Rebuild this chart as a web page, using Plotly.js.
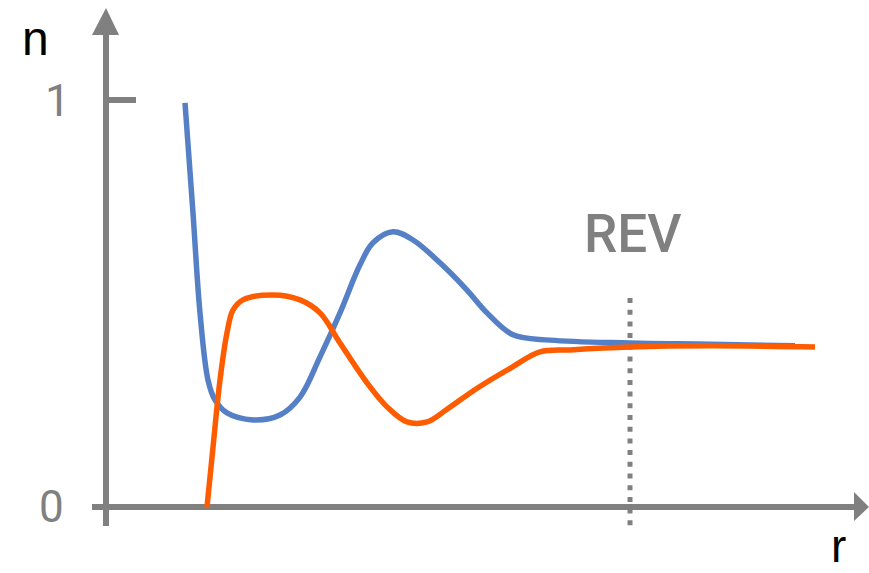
<!DOCTYPE html>
<html>
<head>
<meta charset="utf-8">
<script src="https://cdn.plot.ly/plotly-3.0.1.min.js"></script>
<style>html,body{margin:0;padding:0;background:#fff;}#chart{width:869px;height:573px;}</style>
</head>
<body>
<div id="chart"></div>
<script>
// Blue curve (n vs r)
const blueR = [0.79, 0.87, 0.94, 1.02, 1.09, 1.21, 1.47, 1.74, 1.94, 2.14, 2.34, 2.54, 2.67, 2.87, 3.07, 3.34, 3.61, 3.81, 4.07, 4.44, 5.24, 6.04, 6.89];
const blueN = [0.993, 0.722, 0.477, 0.312, 0.263, 0.231, 0.214, 0.226, 0.270, 0.369, 0.477, 0.595, 0.649, 0.676, 0.656, 0.600, 0.533, 0.477, 0.423, 0.410, 0.403, 0.400, 0.396];
// Orange curve (n vs r)
const orangeR = [1.01, 1.07, 1.14, 1.21, 1.27, 1.37, 1.67, 1.94, 2.14, 2.34, 2.61, 2.81, 3.01, 3.21, 3.41, 3.70, 4.05, 4.34, 4.64, 5.24, 6.04, 7.09];
const orangeN = [0.0, 0.147, 0.312, 0.428, 0.484, 0.509, 0.521, 0.509, 0.477, 0.403, 0.305, 0.246, 0.209, 0.209, 0.240, 0.290, 0.342, 0.381, 0.386, 0.393, 0.396, 0.393];
// Axis labels / ticks
const yTickVals = [0, 1];
const yTickText = ["0", "1"];
const revR = 5.24;
const revLabel = "REV";
const xLabel = "r";
const yLabel = "n";

const gray = "#808080";
const traces = [
  {x: blueR, y: blueN, mode: "lines", line: {color: "#5580c6", width: 5.5, shape: "spline", smoothing: 1}, hoverinfo: "skip"},
  {x: orangeR, y: orangeN, mode: "lines", line: {color: "#ff5c00", width: 5.5, shape: "spline", smoothing: 1}, hoverinfo: "skip"}
];

const shapes = [
  {type: "line", x0: 0, x1: 0, y0: -0.047, y1: 1.165, line: {color: gray, width: 6}, layer: "below"},
  {type: "line", x0: -0.14, x1: 7.49, y0: 0, y1: 0, line: {color: gray, width: 6}, layer: "below"},
  {type: "path", path: "M -0.14 1.1597 L 0.13 1.1597 L 0 1.226 Z", fillcolor: gray, line: {width: 0}, layer: "below"},
  {type: "path", path: "M 7.48 0.0369 L 7.48 -0.0344 L 7.63 0 Z", fillcolor: gray, line: {width: 0}, layer: "below"},
  {type: "line", x0: 0, x1: 0.30, y0: 1, y1: 1, line: {color: gray, width: 6}, layer: "below"},
  {type: "line", x0: revR, x1: revR, y0: -0.045, y1: 0.515, line: {color: gray, width: 5, dash: "5px,6.7px"}, layer: "below"}
];

const annotations = [
  {x: -0.49, y: yTickVals[1], text: yTickText[1], showarrow: false, font: {family: "Roboto", size: 45, color: gray}, xanchor: "center", yanchor: "middle"},
  {x: -0.55, y: yTickVals[0], text: yTickText[0], showarrow: false, font: {family: "Roboto", size: 44, color: gray}, xanchor: "center", yanchor: "middle"},
  {x: -0.71, y: (507 - 38) / 407, text: yLabel, showarrow: false, font: {family: "Liberation Sans", size: 48, color: "#000"}, xanchor: "center", yanchor: "middle"},
  {x: 7.32, y: (507 - 546) / 407, text: xLabel, showarrow: false, font: {family: "Liberation Sans", size: 46, color: "#000"}, xanchor: "center", yanchor: "middle"},
  {x: revR + 0.03, y: (507 - 234) / 407, text: revLabel, showarrow: false, font: {family: "Roboto", size: 53, weight: 500, color: gray}, xanchor: "center", yanchor: "middle"}
];

const layout = {
  width: 869, height: 573,
  margin: {l: 0, r: 0, t: 0, b: 0},
  paper_bgcolor: "#fff", plot_bgcolor: "#fff",
  showlegend: false,
  xaxis: {range: [-1.06, 7.63], visible: false, fixedrange: true},
  yaxis: {range: [-0.1622, 1.2457], visible: false, fixedrange: true},
  shapes: shapes,
  annotations: annotations
};

Plotly.newPlot("chart", traces, layout, {staticPlot: true, displayModeBar: false});
</script>
</body>
</html>
